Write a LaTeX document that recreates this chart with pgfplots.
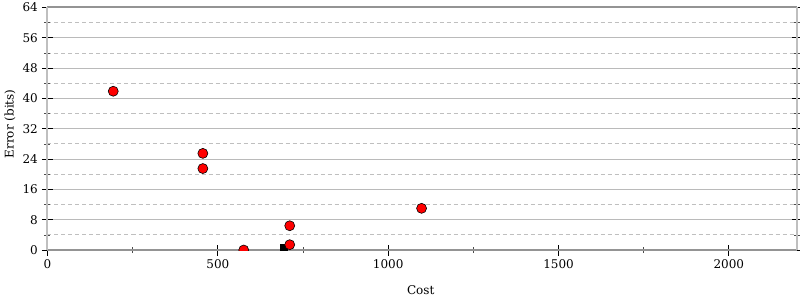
\documentclass[border=0pt]{standalone}
\usepackage{fontspec}
\setmainfont{DejaVu Serif}
\usepackage{pgfplots}
\pgfplotsset{compat=1.18}
\begin{document}
\fontsize{12bp}{14bp}\selectfont
\begin{tikzpicture}
\begin{axis}[name=ax, scale only axis, width=749.5bp, height=242.5bp,
  xmin=0, xmax=2200, ymin=0, ymax=64,
  xtick={0,500,1000,1500,2000}, minor xtick={250,750,1250,1750},
  ytick={0,8,...,64}, minor ytick={4,12,...,60},
  xtick pos=left, ytick pos=both,
  tick align=center, major tick length=11bp, minor tick length=6bp,
  major tick style={black, line width=0.8bp},
  minor tick style={black!70, line width=0.6bp},
  ymajorgrids, yminorgrids,
  major grid style={color=black!27, line width=0.9bp, solid},
  minor grid style={color=black!25, line width=0.9bp, dash pattern=on 4bp off 3bp},
  separate axis lines,
  x axis line style={black!42, line width=2bp},
  y axis line style={black!25, line width=2bp},
  xlabel={Cost}, ylabel={Error (bits)},
  xlabel style={at={(axis description cs:0.498,-0.165)}, anchor=center},
  ylabel style={at={(axis description cs:-0.05,0.52)}, anchor=center},
  /pgf/number format/assume math mode=true,
  scaled x ticks=false,
  x tick label style={/pgf/number format/1000 sep={}},
  clip=true, clip marker paths=true,
]
\addplot[only marks, mark=square*, mark size=3.5bp, black] coordinates {(692,0.7)};
\addplot[only marks, mark=*, mark size=5bp, mark options={fill=red, draw=black, line width=0.6bp}]
  coordinates {(193,41.9) (456,25.5) (456,21.5) (576,0) (711,6.4) (711,1.4) (1098,11.0)};
\end{axis}
\pgfresetboundingbox
\path[use as bounding box] (ax.south west) ++(-47.5bp,-50bp) rectangle ++(800bp,300bp);
\end{tikzpicture}
\end{document}
